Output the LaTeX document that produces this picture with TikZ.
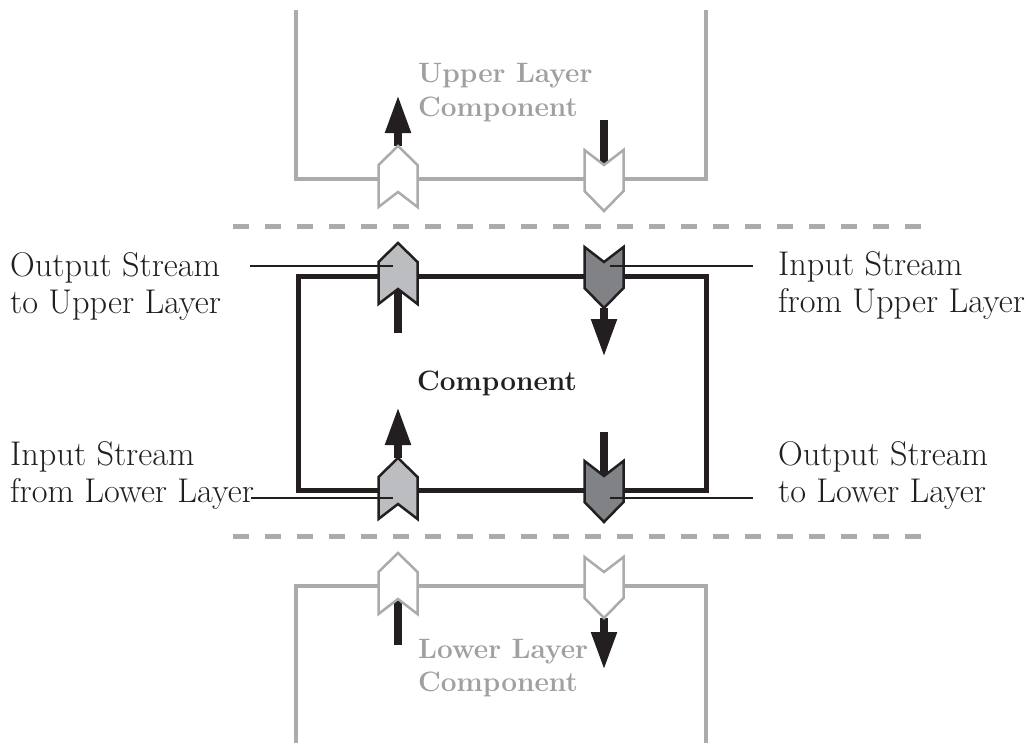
\documentclass[tikz,border=0pt]{standalone}
\usetikzlibrary{arrows.meta}

\definecolor{ink}{HTML}{231F20}
\definecolor{layergray}{HTML}{ABABAD}
\definecolor{labelgray}{HTML}{A0A0A2}
\definecolor{portlight}{HTML}{BCBDC0}
\definecolor{portdark}{HTML}{808285}

\tikzset{
  portup/.pic={\path[pic actions] (0,0) -- (19.5,19) -- (19.5,61) -- (0,46) -- (-19.5,61) -- (-19.5,19) -- cycle;},
  portdown/.pic={\path[pic actions] (-19.5,0) -- (0,15) -- (19.5,0) -- (19.5,41) -- (0,61) -- (-19.5,41) -- cycle;},
  outerport/.style={draw=layergray, fill=white, line width=2.5pt, line join=miter},
  inport/.style={draw=ink, fill=portdark, line width=2.5pt, line join=miter},
  outport/.style={draw=ink, fill=portlight, line width=2.5pt, line join=miter},
  flow/.style={draw=ink, line width=8pt, -{Triangle[length=38pt,width=24pt]}},
  shaft/.style={draw=ink, line width=8pt},
  layerline/.style={draw=layergray, line width=4pt},
  boundary/.style={draw=layergray, line width=5pt, dash pattern=on 16pt off 16pt},
  compbox/.style={draw=ink, line width=5pt},
  leader/.style={draw=ink, line width=2pt},
  streamlabel/.style={inner sep=0pt, align=left, font=\fontsize{34.3}{37}\selectfont, text=ink},
  layerlabel/.style={inner sep=0pt, align=left, font=\fontsize{28}{33}\selectfont\bfseries, text=labelgray},
}

\begin{document}
\begin{tikzpicture}[x=1pt, y=-1pt]
\useasboundingbox[fill=white] (0,0) rectangle (1031,752);

% port reference points: tip of outgoing ports, top of incoming ports
\coordinate (uA) at (398,146);   % upper layer, outgoing
\coordinate (uB) at (604,150);   % upper layer, incoming
\coordinate (cA) at (398,243);   % component, output to upper
\coordinate (cB) at (604,247);   % component, input from upper
\coordinate (cC) at (398,458);   % component, input from lower
\coordinate (cD) at (604,461);   % component, output to lower
\coordinate (lA) at (398,553);   % lower layer, outgoing
\coordinate (lB) at (604,557);   % lower layer, incoming

% notches and tips on the far side of each port
\coordinate (uBn) at (604,165);
\coordinate (cAn) at (398,289);
\coordinate (cBt) at (604,308);
\coordinate (cDn) at (604,476);
\coordinate (lAn) at (398,599);
\coordinate (lBt) at (604,618);

% arrow ends
\coordinate (uAend) at (398,95);
\coordinate (uBstart) at (604,120);
\coordinate (cAstart) at (398,333);
\coordinate (cBend) at (604,357);
\coordinate (cCend) at (398,407);
\coordinate (cDstart) at (604,432);
\coordinate (lAstart) at (398,645);
\coordinate (lBend) at (604,670);

% data flow arrows (drawn under the ports)
\draw[flow] (uA) -- (uAend);
\draw[shaft] (uBstart) -- (uBn);
\draw[shaft] (cAstart) -- (cAn);
\draw[flow] (cBt) -- (cBend);
\draw[flow] (cC) -- (cCend);
\draw[shaft] (cDstart) -- (cDn);
\draw[shaft] (lAstart) -- (lAn);
\draw[flow] (lBt) -- (lBend);

% layer boundaries
\coordinate (bt0) at (233,226); \coordinate (bt1) at (922,226);
\coordinate (bb0) at (233,536); \coordinate (bb1) at (922,536);
\draw[boundary] (bt0) -- (bt1);
\draw[boundary] (bb0) -- (bb1);

% neighbouring layer components
\coordinate (ub0) at (296,10);  \coordinate (ub1) at (296,179);
\coordinate (ub2) at (706,179); \coordinate (ub3) at (706,10);
\draw[layerline, line join=miter] (ub0) -- (ub1) -- (ub2) -- (ub3);
\coordinate (lb0) at (296,743); \coordinate (lb1) at (296,586);
\coordinate (lb2) at (706,586); \coordinate (lb3) at (706,743);
\draw[layerline, line join=miter] (lb0) -- (lb1) -- (lb2) -- (lb3);

% the component itself
\coordinate (cb0) at (298,276); \coordinate (cb1) at (706,490);
\draw[compbox] (cb0) rectangle (cb1);

% ports
\pic[outerport] at (uA) {portup};
\pic[outerport] at (uB) {portdown};
\pic[outport] at (cA) {portup};
\pic[inport] at (cB) {portdown};
\pic[outport] at (cC) {portup};
\pic[inport] at (cD) {portdown};
\pic[outerport] at (lA) {portup};
\pic[outerport] at (lB) {portdown};

% labels (base anchor sits on the last line)
\node[layerlabel, anchor=base west] (upper) at (418,116) {Upper Layer\\Component};
\node[layerlabel, anchor=base west] (lower) at (418,691) {Lower Layer\\Component};
\node[inner sep=0pt, anchor=base west, font=\fontsize{28}{33}\selectfont\bfseries, text=ink] (comp) at (417,390) {Component};

\node[streamlabel, anchor=base west] (outU) at (10,313) {Output Stream\\to Upper Layer};
\node[streamlabel, anchor=base west] (inU) at (778,312) {Input Stream\\from Upper Layer};
\node[streamlabel, anchor=base west] (inL) at (10,502) {Input Stream\\from Lower Layer};
\node[streamlabel, anchor=base west] (outL) at (778,502) {Output Stream\\to Lower Layer};

% leader lines from the labels into the ports
\coordinate (k1) at (250,266); \coordinate (k1e) at (393,266);
\coordinate (k2) at (753,266); \coordinate (k2e) at (610,266);
\coordinate (k3) at (251,498); \coordinate (k3e) at (393,498);
\coordinate (k4) at (753,498); \coordinate (k4e) at (610,498);
\draw[leader] (k1) -- (k1e);
\draw[leader] (k2) -- (k2e);
\draw[leader] (k3) -- (k3e);
\draw[leader] (k4) -- (k4e);
\end{tikzpicture}
\end{document}
